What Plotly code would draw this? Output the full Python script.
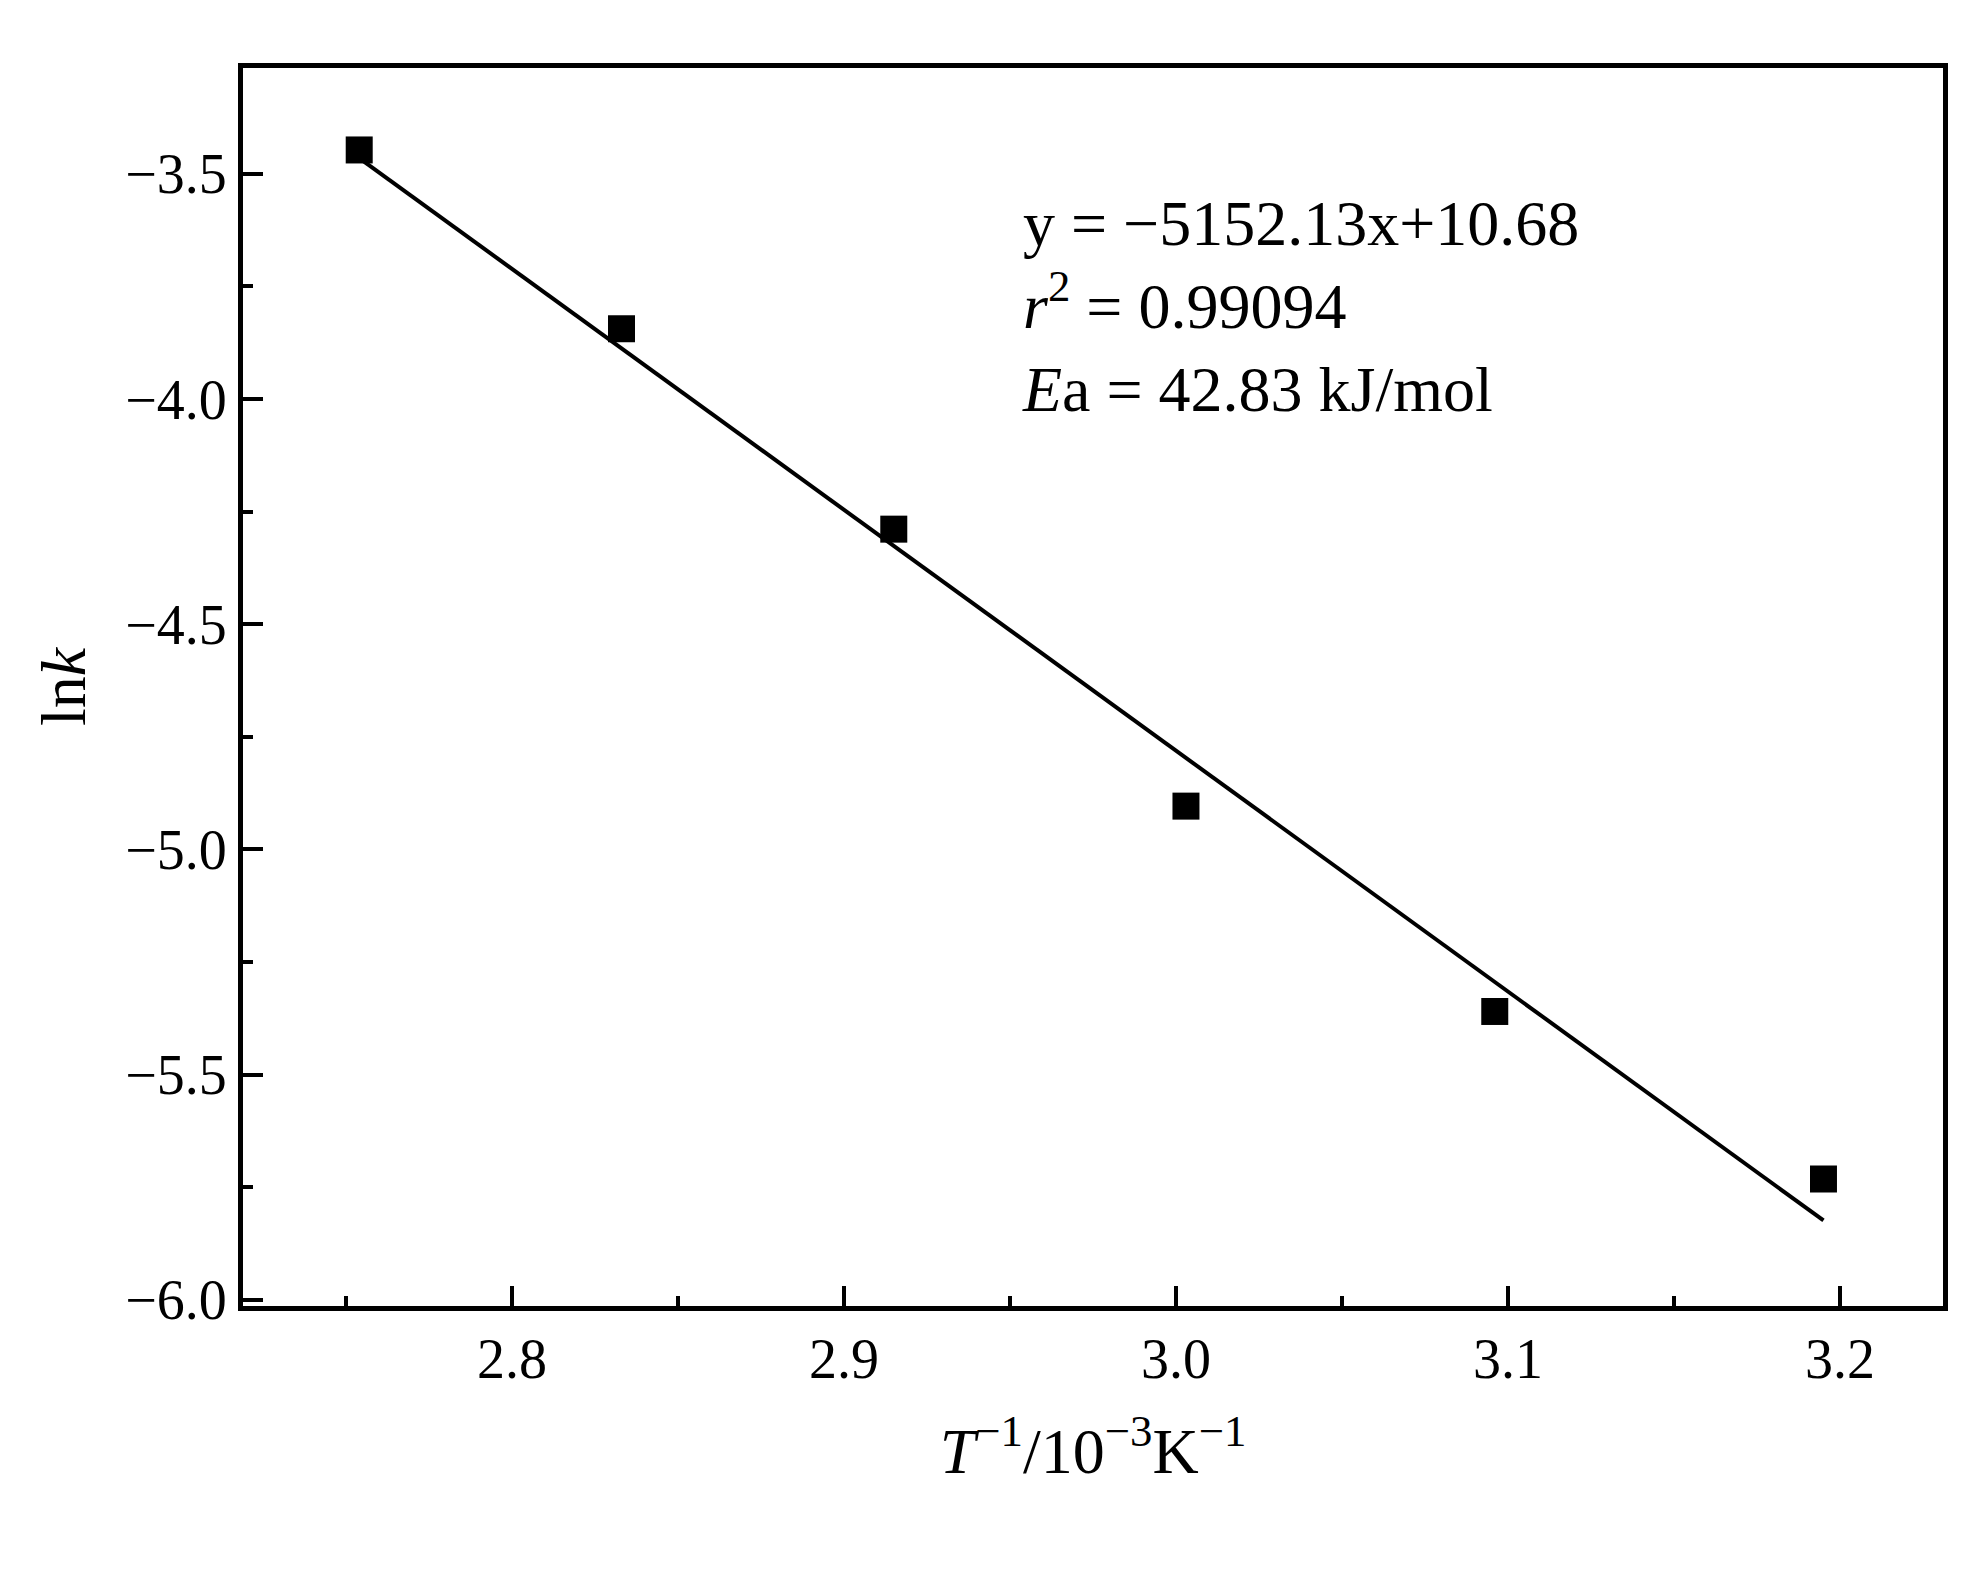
import plotly.graph_objects as go

# data
inv_T = [2.754, 2.833, 2.915, 3.003, 3.096, 3.195]
ln_k = [-3.447, -3.844, -4.289, -4.904, -5.360, -5.732]
fit_x = [2.754, 3.195]
fit_y = [-3.465, -5.824]
y_ticks = [-6.0, -5.5, -5.0, -4.5, -4.0, -3.5]
y_labels = ["−6.0", "−5.5", "−5.0", "−4.5", "−4.0", "−3.5"]
x_ticks = [2.8, 2.9, 3.0, 3.1, 3.2]
x_labels = ["2.8", "2.9", "3.0", "3.1", "3.2"]

FONT = "Liberation Serif"

fig = go.Figure()
fig.add_trace(go.Scatter(x=fit_x, y=fit_y, mode="lines",
                         line=dict(color="black", width=4), showlegend=False))
fig.add_trace(go.Scatter(x=inv_T, y=ln_k, mode="markers",
                         marker=dict(symbol="square", size=27, color="black"),
                         showlegend=False))

axis_common = dict(
    showline=True, linecolor="black", linewidth=5, mirror=True,
    ticks="inside", ticklen=20, tickwidth=4, tickcolor="black",
    showgrid=False, zeroline=False,
    tickfont=dict(family=FONT, size=56, color="black"),
)
fig.update_xaxes(range=[2.719, 3.231], tickvals=x_ticks, ticktext=x_labels,
                 minor=dict(dtick=0.05, tick0=2.75, ticks="inside", ticklen=10, tickwidth=4, tickcolor="black"),
                 title=dict(text="<i>T</i><sup>−1</sup>/10<sup>−3</sup>K<sup>−1</sup>",
                            font=dict(family=FONT, size=64, color="black"), standoff=40),
                 **axis_common)
fig.update_yaxes(range=[-6.014, -3.265], tickvals=y_ticks, ticktext=y_labels,
                 minor=dict(dtick=0.25, tick0=-6.0, ticks="inside", ticklen=10, tickwidth=4, tickcolor="black"),
                 title=dict(text="ln<i>k</i>", font=dict(family=FONT, size=64, color="black"), standoff=20),
                 **axis_common)

fig.add_annotation(
    x=0.457, y=0.905, xref="paper", yref="paper", xanchor="left", yanchor="top",
    align="left", showarrow=False,
    text="y = −5152.13x+10.68<br><i>r</i><sup>2</sup> = 0.99094<br><i>E</i>a = 42.83 kJ/mol",
    font=dict(family=FONT, size=64, color="black"),
)

fig.update_layout(
    width=1986, height=1583,
    margin=dict(l=235, r=51, t=60, b=285),
    plot_bgcolor="white", paper_bgcolor="white",
)
fig.write_html("out.html")
